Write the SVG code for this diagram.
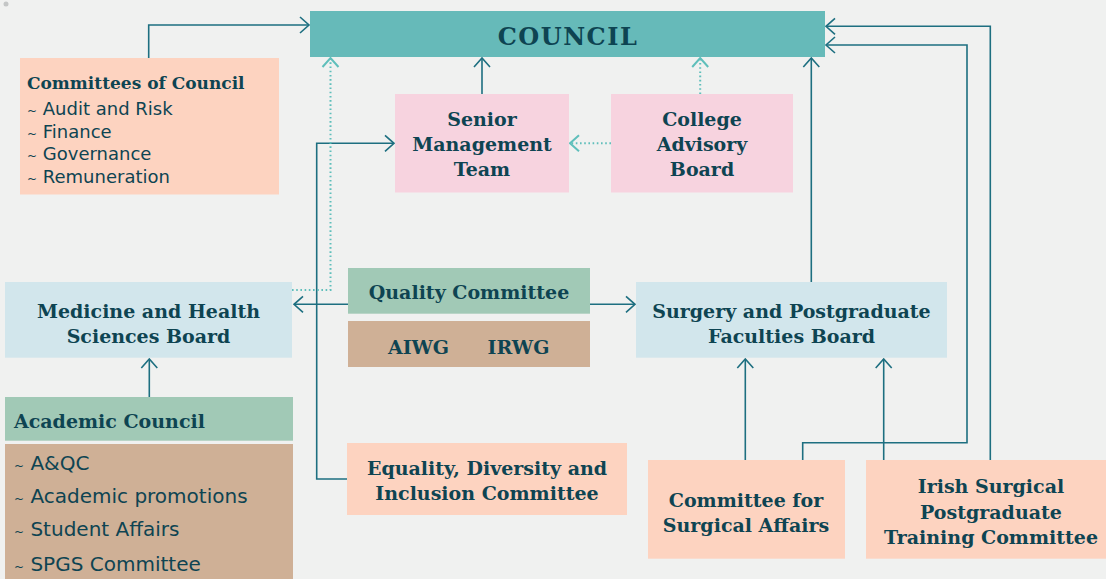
<svg xmlns="http://www.w3.org/2000/svg" width="1106" height="579" viewBox="0 0 1106 579">
<style>
.h{font-family:"DejaVu Serif","Liberation Serif",serif;font-weight:bold;fill:#0e4452;font-size:19px}
.hc{text-anchor:middle}
.s{font-family:"DejaVu Sans","Liberation Sans",sans-serif;fill:#0e4452}
.t{font-size:12px}
.ln{fill:none;stroke:#1d6f80;stroke-width:1.6}
.dt{fill:none;stroke:#5fbfbb;stroke-width:2;stroke-dasharray:1.6 2.6}
</style>
<defs>
<marker id="ah" viewBox="-12 -10 14 20" refX="0" refY="0" markerWidth="14" markerHeight="20" markerUnits="userSpaceOnUse" orient="auto">
<path d="M-9,-8 L0,0 L-9,8" fill="none" stroke="#1d6f80" stroke-width="1.6"/>
</marker>
<marker id="al" viewBox="-12 -10 14 20" refX="0" refY="0" markerWidth="14" markerHeight="20" markerUnits="userSpaceOnUse" orient="auto">
<path d="M-9,-8 L0,0 L-9,8" fill="none" stroke="#5fbfbb" stroke-width="2"/>
</marker>
</defs>
<rect width="1106" height="579" fill="#f0f1f0"/>
<circle cx="6" cy="4" r="2.5" fill="#c4c6c6"/>

<g id="connectors">
<path class="ln" d="M148.7,58 V25 H309" marker-end="url(#ah)"/>
<path class="ln" d="M482,94 V58" marker-end="url(#ah)"/>
<path class="ln" d="M811.3,282 V58" marker-end="url(#ah)"/>
<path class="ln" d="M802.7,460 V442.7 H967 V45 H826" marker-end="url(#ah)"/>
<path class="ln" d="M990.3,460 V26.3 H826" marker-end="url(#ah)"/>
<path class="ln" d="M745.3,460 V359" marker-end="url(#ah)"/>
<path class="ln" d="M883.7,460 V359" marker-end="url(#ah)"/>
<path class="ln" d="M149.3,397 V359" marker-end="url(#ah)"/>
<path class="ln" d="M348,304.3 H294" marker-end="url(#ah)"/>
<path class="ln" d="M590,304.3 H635" marker-end="url(#ah)"/>
<path class="ln" d="M347,479 H316.7 V143.3 H394" marker-end="url(#ah)"/>
<path class="dt" d="M292,290 H330.5 V58" marker-end="url(#al)"/>
<path class="dt" d="M700.2,94 V58" marker-end="url(#al)"/>
<path class="dt" d="M611,143.3 H570" marker-end="url(#al)"/>
</g>

<g id="council">
<rect x="310" y="11" width="515" height="46" fill="#66bab9"/>
<text class="h hc" x="568" y="45" style="font-size:24px;letter-spacing:1.5px">COUNCIL</text>
</g>

<g id="committees-of-council">
<rect x="20" y="58" width="259" height="136.5" fill="#fdd3c0"/>
<text class="h" x="27" y="89" style="font-size:17px">Committees of Council</text>
<text class="s" style="font-size:18px"><tspan x="27" y="115"><tspan class="t">~</tspan> Audit and Risk</tspan><tspan x="27" y="137.7"><tspan class="t">~</tspan> Finance</tspan><tspan x="27" y="160"><tspan class="t">~</tspan> Governance</tspan><tspan x="27" y="182.7"><tspan class="t">~</tspan> Remuneration</tspan></text>
</g>

<g id="senior-management-team">
<rect x="395" y="94" width="174" height="98.5" fill="#f7d3df"/>
<text class="h hc" x="482"><tspan x="482" y="126">Senior</tspan><tspan x="482" y="151">Management</tspan><tspan x="482" y="176">Team</tspan></text>
</g>

<g id="college-advisory-board">
<rect x="611" y="94" width="182" height="98.5" fill="#f7d3df"/>
<text class="h hc" x="702"><tspan x="702" y="126">College</tspan><tspan x="702" y="151">Advisory</tspan><tspan x="702" y="176">Board</tspan></text>
</g>

<g id="medicine-health-sciences-board">
<rect x="5" y="282" width="287" height="75.7" fill="#d2e6ec"/>
<text class="h hc" x="148.5"><tspan x="148.5" y="318">Medicine and Health</tspan><tspan x="148.5" y="343">Sciences Board</tspan></text>
</g>

<g id="quality-committee">
<rect x="348" y="268" width="242" height="45.7" fill="#a1c9b6"/>
<text class="h hc" x="469" y="299">Quality Committee</text>
</g>

<g id="working-groups">
<rect x="348" y="321" width="242" height="46" fill="#cfb096"/>
<text class="h hc" x="418.5" y="354">AIWG</text>
<text class="h hc" x="518.5" y="354">IRWG</text>
</g>

<g id="surgery-postgraduate-faculties-board">
<rect x="636" y="282" width="311" height="75.7" fill="#d2e6ec"/>
<text class="h hc" x="791.5"><tspan x="791.5" y="318">Surgery and Postgraduate</tspan><tspan x="791.5" y="343">Faculties Board</tspan></text>
</g>

<g id="academic-council">
<rect x="5" y="397" width="288" height="43.7" fill="#a1c9b6"/>
<text class="h" x="14" y="428">Academic Council</text>
</g>

<g id="academic-council-committees">
<rect x="5" y="444" width="288" height="135" fill="#cfb096"/>
<text class="s" style="font-size:20px"><tspan x="14" y="470"><tspan class="t">~</tspan> A&amp;QC</tspan><tspan x="14" y="502.7"><tspan class="t">~</tspan> Academic promotions</tspan><tspan x="14" y="536"><tspan class="t">~</tspan> Student Affairs</tspan><tspan x="14" y="570.7"><tspan class="t">~</tspan> SPGS Committee</tspan></text>
</g>

<g id="edi-committee">
<rect x="347" y="443" width="280" height="72" fill="#fdd3c0"/>
<text class="h hc" x="487"><tspan x="487" y="475">Equality, Diversity and</tspan><tspan x="487" y="500">Inclusion Committee</tspan></text>
</g>

<g id="committee-surgical-affairs">
<rect x="648" y="460" width="197" height="98.7" fill="#fdd3c0"/>
<text class="h hc" x="746"><tspan x="746" y="507.3">Committee for</tspan><tspan x="746" y="531.7">Surgical Affairs</tspan></text>
</g>

<g id="irish-surgical-postgraduate-training-committee">
<rect x="866" y="460" width="240" height="98.7" fill="#fdd3c0"/>
<text class="h hc" x="991"><tspan x="991" y="493.3">Irish Surgical</tspan><tspan x="991" y="519.3">Postgraduate</tspan><tspan x="991" y="544.3">Training Committee</tspan></text>
</g>
</svg>
